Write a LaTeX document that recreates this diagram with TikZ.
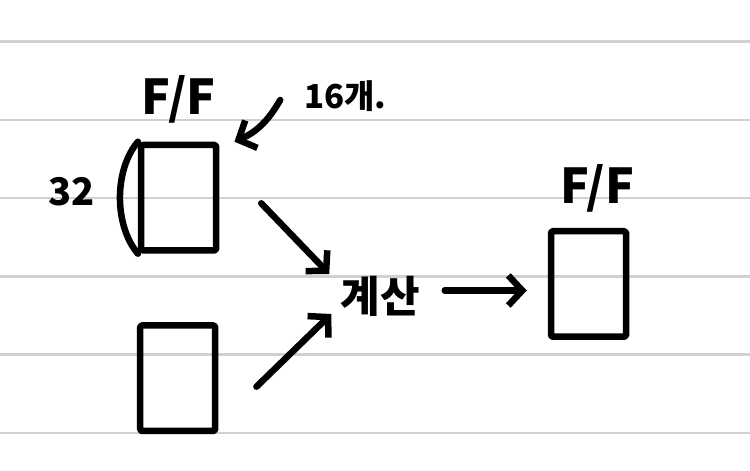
\documentclass[tikz,border=0pt]{standalone}
\usepackage{fontspec}
\setmainfont{Noto Sans CJK KR}
\usetikzlibrary{arrows.meta, positioning}

\begin{document}
\begin{tikzpicture}[x=1pt, y=1pt,
    ink/.style={line width=6.5pt, line cap=round, line join=round},
    ffbox/.style={ink, draw, rounded corners=1.5pt, minimum width=75pt, minimum height=105.5pt, inner sep=0pt},
    hand/.style={inner sep=0pt, font={\bfseries\fontsize{#1}{#1}\selectfont}},
    flow/.style={ink, -{Straight Barb[length=14pt, width=30pt]}}]
    % Page
    \useasboundingbox (0,0) rectangle (750,471);
    \fill[white] (0,0) rectangle (750,471);

    % Ruled lines
    \foreach \i in {0,...,5} {
        \draw[black!18, line width=2.5pt] (0, 429.5-78.3*\i) -- (750, 429.5-78.3*\i);
    }

    % Flip-flops
    \node[ffbox] (ffa) at (178.7,273.3) {};
    \node[ffbox] (ffb) at (177.7,92.8) {};
    \node[ffbox] (ffc) at (588.5,187) {};
    \node[hand=48, above=18pt of ffa] (ffalabel) {F/F};
    \node[hand=48, above=16pt of ffc, xshift=8.5pt] (ffclabel) {F/F};

    % Bracket for the 32 bits
    \draw[ink] (ffa.north west) .. controls +(-24,-28) and +(-24,28) .. (ffa.south west);
    \node[hand=38] (width) at (71.5,279) {32};

    % Count
    \node[hand=33] (count) at (345.5,374.5) {16개.};
    \draw[flow] ([shift={(-24,-3.5)}]count.west) to[out=240, in=24] ([shift={(15,0)}]ffa.north east);

    % Calculation
    \node[hand=43] (calc) at (380,175) {계산};
    \draw[flow] ([shift={(41.8,-5.6)}]ffa.east) -- ([shift={(-11,22)}]calc.west);
    \draw[flow] ([shift={(38,-8.5)}]ffb.east) -- ([shift={(-9,-18)}]calc.west);
    \draw[flow] ([shift={(25,5.5)}]calc.east) -- ([shift={(-21,-6.5)}]ffc.west);
\end{tikzpicture}
\end{document}
